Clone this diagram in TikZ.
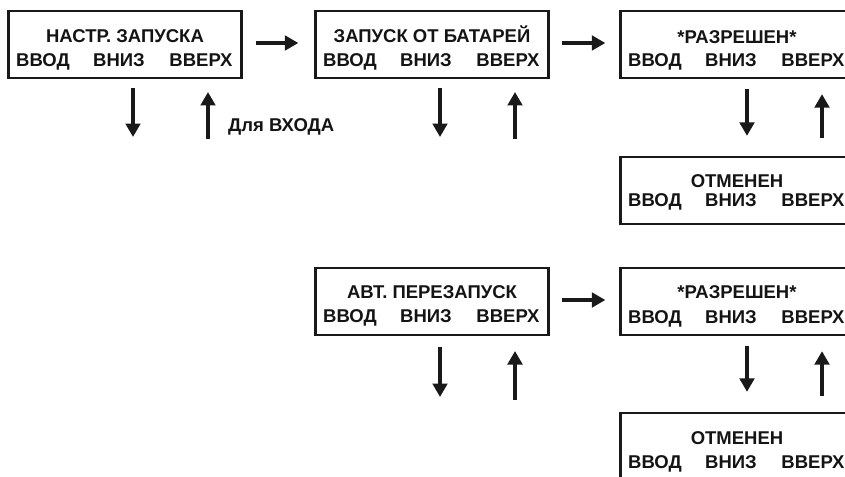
\documentclass[tikz,border=0pt]{standalone}
\usepackage{fontspec}
\setmainfont{Liberation Sans}
\usetikzlibrary{arrows.meta,calc}
\tikzset{
  panel/.style={draw=black!90,line width=2.3pt,minimum width=233pt,minimum height=67pt,inner sep=0pt,fill=none},
  lbl/.style={font=\bfseries\fontsize{18.5}{19}\selectfont,inner sep=0pt,text height=13pt,text depth=0pt,text=black!92},
  keylbl/.style={lbl},
  bigarrow/.style={line width=4.3pt,draw=black!90,-{Triangle[length=13.5pt,width=14.5pt]}},
}
\newcommand\mkpanel[6]{% name, cx, top, title, title offset, bottom offset
  \node[panel] (#1) at (#2,#3+33.5) {};
  \node[lbl] (#1t) at (#2,#3+#5) {#4};
  \node[keylbl] (#1a) at (#2-82,#3+#6) {ВВОД};
  \node[keylbl] (#1b) at (#2-6,#3+#6) {ВНИЗ};
  \node[keylbl] (#1c) at (#2+76,#3+#6) {ВВЕРХ};
}
\begin{document}
\begin{tikzpicture}[x=1pt,y=-1pt]
\useasboundingbox (0,0) rectangle (845,476);
\clip (0,0) rectangle (845,476);
\fill[white] (0,0) rectangle (845,476);
\mkpanel{b1}{125}{11}{НАСТР. ЗАПУСКА}{25}{49}
\mkpanel{b2}{432}{11}{ЗАПУСК ОТ БАТАРЕЙ}{25}{49}
\mkpanel{b3}{737}{11}{*РАЗРЕШЕН*}{26}{49}
\mkpanel{b4}{737}{157}{ОТМЕНЕН}{24}{43}
\mkpanel{b5}{432}{268}{АВТ. ПЕРЕЗАПУСК}{24}{48}
\mkpanel{b6}{737}{268}{*РАЗРЕШЕН*}{24}{49}
\mkpanel{b7}{737}{413}{ОТМЕНЕН}{25}{49}
% horizontal arrows
\draw[bigarrow] ($(b1.east)+(13,-1.5)$) -- ($(b2.west)+(-16,-1.5)$);
\draw[bigarrow] ($(b2.east)+(12,-1.5)$) -- ($(b3.west)+(-14,-1.5)$);
\draw[bigarrow] ($(b5.east)+(12,-1.5)$) -- ($(b6.west)+(-14,-1.5)$);
% dangling vertical arrows
\coordinate (d1s) at (133,88);  \coordinate (d1e) at (133,137);
\coordinate (u1s) at (208,139); \coordinate (u1e) at (208,92);
\coordinate (d2s) at (440,88);  \coordinate (d2e) at (440,137);
\coordinate (u2s) at (515,139); \coordinate (u2e) at (515,92);
\coordinate (d5s) at (440,347); \coordinate (d5e) at (440,397);
\coordinate (u5s) at (515,400); \coordinate (u5e) at (515,351);
\draw[bigarrow] (d1s) -- (d1e);
\draw[bigarrow] (u1s) -- (u1e);
\draw[bigarrow] (d2s) -- (d2e);
\draw[bigarrow] (u2s) -- (u2e);
\draw[bigarrow] (d5s) -- (d5e);
\draw[bigarrow] (u5s) -- (u5e);
% vertical arrows between panels
\draw[bigarrow] ($(b3.south)+(10,10)$) -- ($(b4.north)+(10,-20)$);
\draw[bigarrow] ($(b4.north)+(85,-18)$) -- ($(b3.south)+(85,15)$);
\draw[bigarrow] ($(b6.south)+(10,10)$) -- ($(b7.north)+(10,-20)$);
\draw[bigarrow] ($(b7.north)+(85,-16)$) -- ($(b6.south)+(85,15)$);
\node[lbl,anchor=west] (enter) at (228,125) {Для ВХОДА};
\end{tikzpicture}
\end{document}
